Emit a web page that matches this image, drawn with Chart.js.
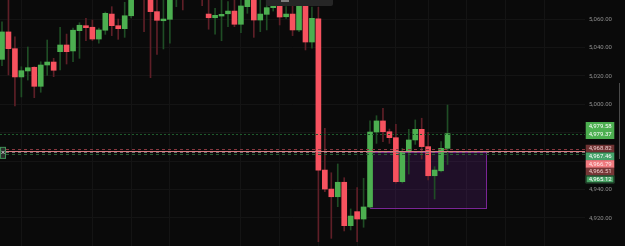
<!DOCTYPE html>
<html>
<head>
<meta charset="utf-8">
<script src="https://cdn.jsdelivr.net/npm/chart.js@4.4.1/dist/chart.umd.min.js"></script>
<style>
  html, body { margin: 0; padding: 0; background: #0a0a0a; }
  #wrap { width: 625px; height: 246px; }
</style>
</head>
<body>
<div id="wrap"><canvas id="chart" width="625" height="246"></canvas></div>
<script>
// candle data, one entry per bar (index = bar number)
var opens = [
  5031.7, 5051.0, 5039.2, 5019.3, 5023.5, 5026.1, 5012.7, 5027.7, 5029.8, 5037.1,
  5041.8, 5037.6, 5051.9, 5055.4, 5054.3, 5046.0, 5052.2, 5063.6, 5055.4, 5053.3,
  5062.4, 5075.0, 5085.0, 5082.0, 5065.3, 5058.9, 5059.9, 5078.0, 5088.0, 5080.0,
  5084.0, 5082.0, 5063.6, 5061.0, 5062.2, 5063.8, 5065.7, 5056.4, 5068.8, 5076.0,
  5059.4, 5063.4, 5068.1, 5069.5, 5061.7, 5063.6, 5052.4, 5069.5, 5043.9, 5060.3,
  4953.7, 4940.3, 4934.9, 4945.1, 4914.5, 4924.4, 4919.2, 4927.7, 4980.5, 4988.3,
  4980.7, 4976.5, 4945.5, 4966.6, 4974.9, 4982.4, 4970.2, 4949.7, 4953.2, 4969.0
];
var highs = [
  5058.2, 5076.0, 5047.6, 5026.5, 5040.4, 5026.5, 5030.0, 5045.3, 5032.4, 5054.3,
  5049.5, 5053.8, 5057.5, 5060.6, 5059.4, 5053.8, 5065.0, 5068.8, 5060.1, 5071.9,
  5078.0, 5083.0, 5088.0, 5084.0, 5075.0, 5075.0, 5080.0, 5090.0, 5092.0, 5088.0,
  5087.0, 5085.0, 5076.0, 5067.7, 5075.0, 5072.3, 5075.0, 5076.0, 5077.0, 5078.0,
  5075.0, 5075.0, 5075.0, 5075.0, 5068.8, 5075.0, 5075.0, 5075.0, 5068.6, 5068.4,
  4983.1, 4951.8, 4958.0, 4948.3, 4926.3, 4941.3, 4947.9, 4988.3, 4992.0, 4997.2,
  4982.6, 4985.9, 4969.0, 4982.4, 4989.0, 4990.2, 4980.3, 4956.1, 4973.8, 4999.5
];
var lows = [
  5027.2, 5020.7, 4998.8, 5005.2, 5017.1, 5004.7, 5008.5, 5020.4, 5019.5, 5024.2,
  5028.4, 5030.0, 5032.4, 5044.8, 5044.8, 5043.0, 5049.3, 5048.4, 5045.8, 5047.2,
  5060.8, 5074.0, 5051.2, 5018.8, 5035.2, 5039.0, 5043.0, 5068.8, 5066.5, 5076.0,
  5075.0, 5069.5, 5052.9, 5049.5, 5044.8, 5054.7, 5054.7, 5050.5, 5064.1, 5047.2,
  5051.2, 5052.4, 5065.7, 5055.9, 5060.6, 5048.4, 5051.2, 5038.3, 5039.5, 4903.2,
  4938.4, 4905.6, 4927.9, 4910.8, 4911.5, 4903.2, 4913.4, 4927.0, 4972.5, 4973.7,
  4972.5, 4944.4, 4944.6, 4950.9, 4971.8, 4961.5, 4946.7, 4933.3, 4952.3, 4957.6
];
var closes = [
  5051.0, 5039.2, 5019.3, 5023.7, 5025.8, 5012.7, 5027.7, 5029.8, 5024.0, 5041.8,
  5037.1, 5052.2, 5055.7, 5054.0, 5046.0, 5052.4, 5064.1, 5055.4, 5053.3, 5062.4,
  5075.0, 5080.0, 5076.0, 5065.3, 5059.2, 5060.1, 5076.0, 5086.0, 5079.0, 5084.0,
  5078.0, 5077.0, 5061.0, 5062.7, 5063.4, 5065.7, 5056.4, 5069.3, 5075.0, 5059.4,
  5063.6, 5068.1, 5069.5, 5061.5, 5063.6, 5052.4, 5069.5, 5043.9, 5060.6, 4953.7,
  4940.3, 4934.9, 4945.1, 4914.5, 4921.3, 4919.2, 4927.7, 4980.5, 4988.3, 4980.7,
  4976.5, 4945.5, 4966.6, 4974.9, 4982.4, 4970.2, 4949.7, 4953.7, 4969.0, 4979.37
];

// price axis
var yTicks = [4920, 4940, 4960, 4980, 5000, 5020, 5040, 5060];
var yMin = 4900.2, yMax = 5073.5;
// time grid (bar numbers)
var xGrid = [3, 14, 20, 26, 37, 43, 49, 55, 61, 66, 72, 78, 84];
var xMin = -0.31, xMax = 90.29;

// price levels shown as lines / labels on the axis
var levelValues = [4979.58, 4979.37, 4968.82, 4967.46, 4966.79, 4966.51, 4965.12];
var levelLabels = ['4,979.58', '4,979.37', '4,968.82', '4,967.46', '4,966.79', '4,966.51', '4,965.12'];

// zone box: bar range and price range
var zoneBars = [57, 75];
var zonePrices = [4966.51, 4927.0];

var GREEN = '#4caf50', RED = '#f7525f';
var GREEN_WICK = '#1f4d25', RED_WICK = '#5e1f27';

var bodies = [], wicks = [];
for (var i = 0; i < opens.length; i++) {
  bodies.push({ x: i, y: [opens[i], closes[i]] });
  wicks.push({ x: i, y: [lows[i], highs[i]] });
}
function isUp(i) { return closes[i] >= opens[i]; }

// line styles for levels (same order as levelValues)
var lineStyles = [
  null,
  { color: '#1f5a2c', dash: [2, 2] },
  { color: '#86373f', dash: [3, 3] },
  null,
  { color: '#d97a80', dash: [] },
  { color: '#707070', dash: [3, 3] },
  { color: '#275f34', dash: [3, 3] }
];
var badgeStyles = [
  { bg: '#4caf50', fg: '#ffffff' },
  { bg: '#4caf50', fg: '#ffffff' },
  { bg: '#6e3232', fg: '#eccaca' },
  { bg: '#45a36a', fg: '#ffffff' },
  { bg: '#f07a7f', fg: '#ffe6e6' },
  { bg: '#763636', fg: '#eccaca' },
  { bg: '#46a062', fg: '#ffffff' }
];

function fmt(v) {
  return v.toLocaleString('en-US', { minimumFractionDigits: 2, maximumFractionDigits: 2 });
}

var overlay = {
  id: 'overlay',
  beforeDatasetsDraw: function (chart) {
    var ctx = chart.ctx, xs = chart.scales.x, ys = chart.scales.y;
    // zone box
    var x1 = xs.getPixelForValue(zoneBars[0]), x2 = xs.getPixelForValue(zoneBars[1]);
    var y1 = ys.getPixelForValue(zonePrices[0]), y2 = ys.getPixelForValue(zonePrices[1]);
    ctx.save();
    ctx.fillStyle = 'rgba(110, 35, 150, 0.22)';
    ctx.fillRect(x1, y1, x2 - x1, y2 - y1);
    ctx.strokeStyle = '#7a2596';
    ctx.lineWidth = 1;
    ctx.strokeRect(Math.round(x1) + 0.5, Math.round(y1) + 0.5, Math.round(x2 - x1), Math.round(y2 - y1));
    ctx.restore();
  },
  afterDatasetsDraw: function (chart) {
    var ctx = chart.ctx, ys = chart.scales.y, a = chart.chartArea;
    ctx.save();
    // level lines
    levelValues.forEach(function (v, k) {
      var st = lineStyles[k];
      if (!st) return;
      var y = Math.round(ys.getPixelForValue(v)) + 0.5;
      ctx.strokeStyle = st.color;
      ctx.setLineDash(st.dash);
      ctx.lineWidth = 1;
      ctx.beginPath();
      ctx.moveTo(a.left, y);
      ctx.lineTo(a.right, y);
      ctx.stroke();
    });
    ctx.setLineDash([]);

    // price labels of the axis
    ctx.font = '6px Roboto';
    ctx.textBaseline = 'middle';
    ctx.textAlign = 'left';
    ctx.fillStyle = '#8e8e8e';
    yTicks.forEach(function (v) {
      ctx.fillText(fmt(v), a.right + 4, ys.getPixelForValue(v) + 0.3);
    });

    // small marker box at the left edge
    var my = ys.getPixelForValue(levelValues[5]);
    ctx.fillStyle = '#2a2d2b';
    ctx.fillRect(0, my - 5, 6, 12);
    ctx.strokeStyle = '#3f8f56';
    ctx.strokeRect(0.5, my - 4.5, 5, 11);
    ctx.strokeStyle = '#cfcfcf';
    ctx.beginPath();
    ctx.moveTo(1.5, my - 1); ctx.lineTo(4.5, my + 2);
    ctx.moveTo(4.5, my - 1); ctx.lineTo(1.5, my + 2);
    ctx.stroke();

    // date box at top
    ctx.fillStyle = '#262626';
    ctx.beginPath();
    ctx.roundRect(266, -4, 67, 10, 2);
    ctx.fill();
    ctx.fillStyle = '#7d7d7d';
    ctx.fillRect(281, 0, 8, 2);

    // axis badges
    var h = 7.7, bx = a.right + 0.7, bw = 28.6;
    // first group: two labels sharing one box, anchored on the second
    var anchor = ys.getPixelForValue(levelValues[1]) + 1;
    var c0 = anchor - 8.4, c1 = anchor;
    ctx.fillStyle = badgeStyles[0].bg;
    ctx.fillRect(bx, c0 - 4.2, bw, c1 - c0 + 8.6);
    ctx.fillStyle = badgeStyles[0].fg;
    ctx.fillText(levelLabels[0], bx + 3, c0 + 0.3);
    ctx.fillText(levelLabels[1], bx + 3, c1 + 0.3);
    // second group: stacked downward from the first level
    var top = ys.getPixelForValue(levelValues[2]) - h / 2;
    for (var k = 2; k < levelValues.length; k++) {
      var yTop = top + (k - 2) * h;
      ctx.fillStyle = badgeStyles[k].bg;
      ctx.fillRect(bx, yTop, bw, h);
      ctx.fillStyle = badgeStyles[k].fg;
      ctx.fillText(levelLabels[k], bx + 3, yTop + h / 2 + 0.3);
    }
    ctx.strokeStyle = '#1d3a24';
    ctx.strokeRect(bx + 0.5, top + 4 * h + 0.5, bw - 1, h - 1);

    // scroll indicator at far right
    ctx.strokeStyle = '#4a4a4a';
    ctx.beginPath();
    ctx.moveTo(619.5, 83);
    ctx.lineTo(619.5, 159);
    ctx.stroke();
    ctx.restore();
  }
};

var chart = new Chart(document.getElementById('chart'), {
  type: 'bar',
  data: {
    datasets: [
      {
        label: 'body',
        data: bodies,
        order: 0,
        grouped: false,
        barThickness: 5,
        minBarLength: 1,
        borderWidth: 0,
        backgroundColor: function (c) { return isUp(c.dataIndex) ? GREEN : RED; }
      },
      {
        label: 'wick',
        data: wicks,
        order: 1,
        grouped: false,
        barThickness: 1,
        borderWidth: 0,
        backgroundColor: function (c) { return isUp(c.dataIndex) ? GREEN_WICK : RED_WICK; }
      }
    ]
  },
  options: {
    responsive: false,
    devicePixelRatio: 1,
    animation: false,
    layout: { padding: 0, autoPadding: false },
    plugins: { legend: { display: false }, tooltip: { enabled: false } },
    scales: {
      x: {
        type: 'linear',
        offset: false,
        min: xMin,
        max: xMax,
        afterBuildTicks: function (s) { s.ticks = xGrid.map(function (v) { return { value: v }; }); },
        afterFit: function (s) { s.height = 0; },
        ticks: { display: false },
        grid: { color: '#141414', drawTicks: false, offset: false },
        border: { display: false }
      },
      y: {
        position: 'right',
        min: yMin,
        max: yMax,
        afterBuildTicks: function (s) { s.ticks = yTicks.map(function (v) { return { value: v }; }); },
        afterFit: function (s) { s.width = 40; },
        ticks: { display: false },
        grid: { color: '#141414', drawTicks: false },
        border: { display: false }
      }
    }
  },
  plugins: [overlay]
});
</script>
</body>
</html>
